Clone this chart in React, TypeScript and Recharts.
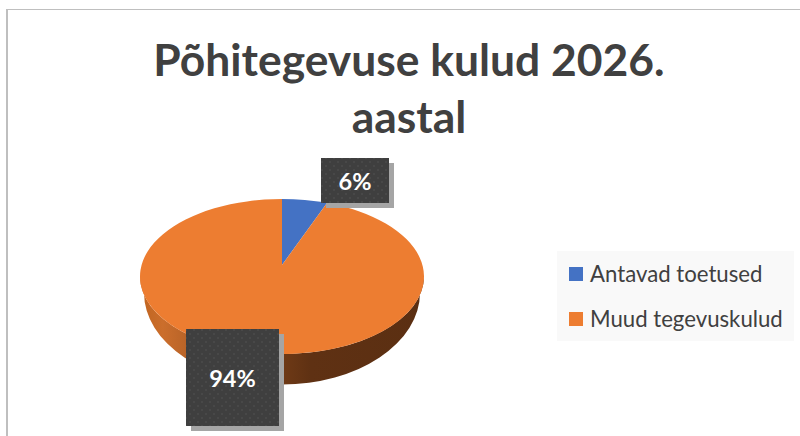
import React from 'react'
import { PieChart, Pie, Legend } from 'recharts'

const categories = ['Antavad toetused', 'Muud tegevuskulud']
const shares = [6, 94]
const colors = ['#4472C4', '#ED7D31']
const titleLines = ['Põhitegevuse kulud 2026.', 'aastal']

const tableData = categories.map((name, i) => ({ name, value: shares[i], fill: colors[i] }))

// the 3D look: top ellipse sits a bit below the pie apex, wall is a taller ellipse under it
const FONT = 'Lato, Carlito, sans-serif'
const SQUASH = 77.5 / 142
const TOP_DROP = 11.5
const WALL_DROP = 16
const WALL_INSET = 4
const WALL_RY = 92

// ray from the apex, in the squashed direction, until it hits the top ellipse
function rimPoint(cx: number, cy: number, r: number, deg: number) {
  const a = ((90 - deg) * Math.PI) / 180
  const ry = r * SQUASH
  const dx = r * Math.sin(a)
  const dy = -ry * Math.cos(a)
  const A = (dx * dx) / (r * r) + (dy * dy) / (ry * ry)
  const B = (-2 * TOP_DROP * dy) / (ry * ry)
  const C = (TOP_DROP * TOP_DROP) / (ry * ry) - 1
  const t = (-B + Math.sqrt(B * B - 4 * A * C)) / (2 * A)
  return { x: cx + dx * t, y: cy + dy * t }
}

function PieSlice(props: any) {
  const { cx, cy, outerRadius: r, startAngle, endAngle, fill, index } = props
  const ry = r * SQUASH
  const p0 = rimPoint(cx, cy, r, startAngle)
  const p1 = rimPoint(cx, cy, r, endAngle)
  const large = Math.abs(startAngle - endAngle) > 180 ? 1 : 0
  const midY = cy + TOP_DROP
  const lr = r - WALL_INSET
  const wall =
    `M${cx - r},${midY} A${r},${ry} 0 0 0 ${cx + r},${midY} ` +
    `L${cx + lr},${midY + WALL_DROP} A${lr},${WALL_RY} 0 0 1 ${cx - lr},${midY + WALL_DROP} Z`
  return (
    <g>
      {index === 1 && <path d={wall} fill="url(#wallShade)" />}
      <path d={`M${cx},${cy} L${p0.x},${p0.y} A${r},${ry} 0 ${large} 1 ${p1.x},${p1.y} Z`} fill={fill} />
    </g>
  )
}

function ValueBox(props: any) {
  const { cx, cy, percent, index } = props
  const box = index === 0
    ? { x: cx + 39, y: cy - 107, w: 68, h: 45 }
    : { x: cx - 96, y: cy + 64, w: 93, h: 97 }
  return (
    <g>
      <rect x={box.x + 5} y={box.y + 5} width={box.w} height={box.h} fill="#a5a5a5" />
      <rect x={box.x} y={box.y} width={box.w} height={box.h} fill="url(#dots)" />
      <text x={box.x + box.w / 2} y={box.y + box.h / 2} fill="#fff" fontFamily={FONT} fontWeight={700}
        fontSize={23.5} textAnchor="middle" dominantBaseline="central">
        {Math.round(percent * 100)}%
      </text>
    </g>
  )
}

function LegendBox({ payload }: any) {
  return (
    <div style={{ background: '#f9f9f9', width: 237, height: 90, boxSizing: 'border-box', padding: '0 0 0 12px' }}>
      {(payload || []).map((item: any) => (
        <div key={item.value} style={{ display: 'flex', alignItems: 'center', height: 45, fontFamily: FONT, fontSize: 22.2, color: '#404040' }}>
          <span style={{ width: 14, height: 14, background: item.color, marginRight: 7, flex: 'none' }} />
          {item.value}
        </div>
      ))}
    </div>
  )
}

export default function App() {
  return (
    <div style={{ position: 'absolute', left: 0, top: 0, width: 800, height: 436, overflow: 'hidden', background: '#fff' }}>
      <div style={{ position: 'absolute', left: 6, top: 9, width: 794, height: 427, borderTop: '1px solid #bfbfbf', borderLeft: '2px solid #bfbfbf', boxSizing: 'border-box' }} />
      <PieChart width={800} height={436} margin={{ top: 0, right: 0, bottom: 0, left: 0 }} style={{ position: 'absolute', left: 0, top: 0 }}>
        <defs>
          <linearGradient id="wallShade" x1="0" y1="0" x2="1" y2="0">
            <stop offset="0" stopColor="#c0641f" />
            <stop offset="0.08" stopColor="#cb6e2c" />
            <stop offset="0.5" stopColor="#6f3a16" />
            <stop offset="0.6" stopColor="#5f3113" />
            <stop offset="1" stopColor="#5b2f12" />
          </linearGradient>
          <pattern id="dots" width="8" height="8" patternUnits="userSpaceOnUse">
            <rect width="8" height="8" fill="#3f3f3f" />
            <circle cx="2" cy="2" r="1.1" fill="#4a4a4a" />
            <circle cx="6" cy="6" r="1.1" fill="#4a4a4a" />
          </pattern>
        </defs>
        <text x={409} textAnchor="middle" fontFamily={FONT} fontWeight={700} fontSize={44.4} fill="#404040">
          <tspan x={409} y={76}>{titleLines[0]}</tspan>
          <tspan x={409} y={133}>{titleLines[1]}</tspan>
        </text>
        <Pie
          data={tableData}
          dataKey="value"
          nameKey="name"
          cx={282}
          cy={265}
          outerRadius={142}
          startAngle={90}
          endAngle={-270}
          stroke="none"
          shape={PieSlice}
          label={ValueBox}
          labelLine={false}
          isAnimationActive={false}
        />
        <Legend
          layout="vertical"
          content={LegendBox}
          wrapperStyle={{ left: 557, top: 251, width: 237, height: 90 }}
        />
      </PieChart>
    </div>
  )
}
